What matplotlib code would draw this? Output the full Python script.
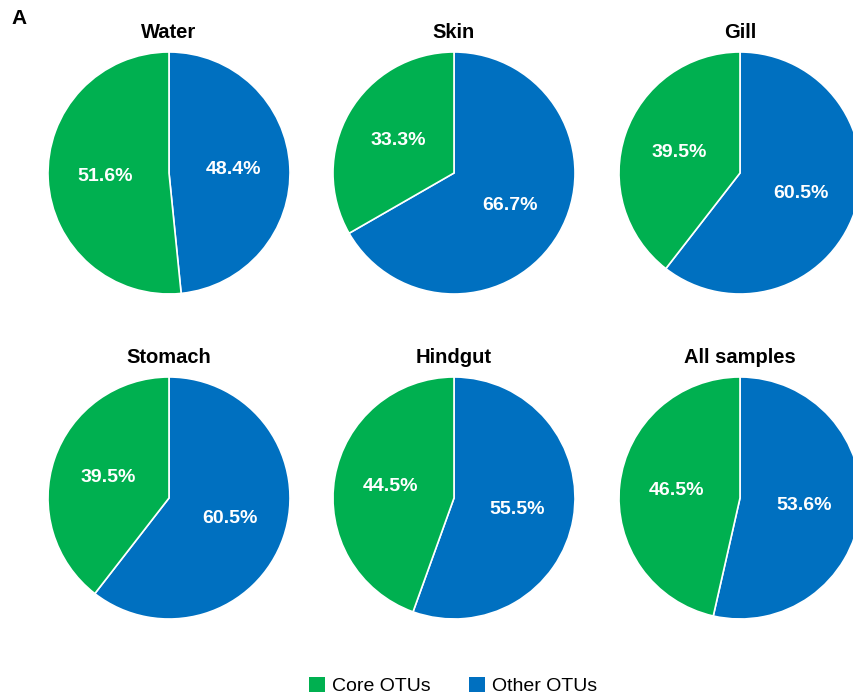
import matplotlib.pyplot as plt
from matplotlib.patches import Patch

plt.rcParams['font.family'] = ['Liberation Sans', 'DejaVu Sans']

groups = ['Water', 'Skin', 'Gill', 'Stomach', 'Hindgut', 'All samples']
core_pct = [51.6, 33.3, 39.5, 39.5, 44.5, 46.5]
other_pct = [48.4, 66.7, 60.5, 60.5, 55.5, 53.6]
series_names = ['Core OTUs', 'Other OTUs']
green = '#00B050'
blue = '#0070C0'

W, H = 854, 699
fig = plt.figure(figsize=(W / 100, H / 100), dpi=100)

col_cx = [169, 454, 740]
row_cy = [173, 498]
radius = 121

for i, name in enumerate(groups):
    cx = col_cx[i % 3]
    cy = row_cy[i // 3]
    ax = fig.add_axes([(cx - radius) / W, (H - cy - radius) / H,
                       2 * radius / W, 2 * radius / H])
    vals = [other_pct[i], core_pct[i]]
    wedges, texts = ax.pie(
        vals, colors=[blue, green], startangle=90, counterclock=False,
        radius=1, labels=[f'{v:.1f}%' for v in vals], labeldistance=0.53,
        wedgeprops=dict(edgecolor='white', linewidth=1.2),
        textprops=dict(color='white', fontsize=14, fontweight='bold',
                       ha='center', va='center'),
    )
    ax.set_xlim(-1, 1)
    ax.set_ylim(-1, 1)
    ax.set_aspect('equal')
    ax.set_title(name, fontsize=14.5, fontweight='bold', pad=10)

fig.text(11 / W, 1 - 19 / H, 'A', fontsize=15, fontweight='bold',
         ha='left', va='center')

handles = [Patch(facecolor=green), Patch(facecolor=blue)]
fig.legend(handles, series_names, loc='center', ncol=2,
           bbox_to_anchor=(453 / W, 1 - 686 / H), frameon=False,
           fontsize=14, handlelength=0.8, handleheight=0.8,
           handletextpad=0.35, columnspacing=2.0)

fig.savefig('out.png', dpi=100)
